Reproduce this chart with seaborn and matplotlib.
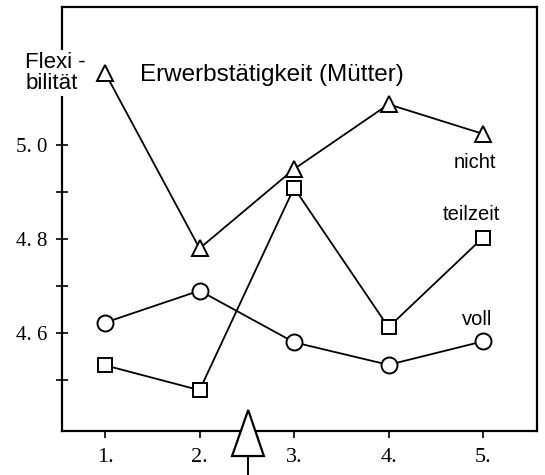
import matplotlib
matplotlib.use("Agg")
import matplotlib.pyplot as plt
from matplotlib.patches import Polygon
import seaborn as sns
import pandas as pd

# Measurement points and mean flexibility scores by mothers' employment
zeitpunkte = [1, 2, 3, 4, 5]
zeitpunkt_labels = ["1.", "2.", "3.", "4.", "5."]
nicht = [5.154, 4.78, 4.949, 5.087, 5.024]
teilzeit = [4.531, 4.478, 4.909, 4.612, 4.803]
voll = [4.622, 4.69, 4.58, 4.532, 4.582]
y_major = [4.6, 4.8, 5.0]
y_major_labels = ["4. 6", "4. 8", "5. 0"]
y_minor = [4.5, 4.7, 4.9]

sns.set_style("white")
plt.rcParams["font.family"] = ["Liberation Sans", "DejaVu Sans"]
plt.rcParams["text.color"] = "black"

fig = plt.figure(figsize=(5.45, 4.75), dpi=100)
ax = fig.add_axes([0.114, 0.0926, 0.871, 0.8924])

series = [
    ("nicht", nicht, "^", 11.0),
    ("teilzeit", teilzeit, "s", 10.5),
    ("voll", voll, "o", 11.5),
]
for name, values, marker, ms in series:
    df = pd.DataFrame({"zeitpunkt": zeitpunkte, "flex": values})
    sns.lineplot(
        data=df, x="zeitpunkt", y="flex", ax=ax,
        color="black", linewidth=1.3,
        marker=marker, markersize=ms,
        markerfacecolor="white", markeredgecolor="black", markeredgewidth=1.4,
        legend=False,
    )

ax.set_xlim(0.545, 5.57)
ax.set_ylim(4.391, 5.294)

serif = ["Liberation Serif", "DejaVu Serif"]
ax.set_xticks(zeitpunkte)
ax.set_xticklabels(zeitpunkt_labels, family=serif, fontsize=16, color="black")
ax.set_yticks(y_major)
ax.set_yticklabels(y_major_labels, family=serif, fontsize=15, color="black")
ax.set_yticks(y_minor, minor=True)
ax.tick_params(axis="x", bottom=True, direction="out", length=5, width=1.2,
               pad=7, color="black")
ax.tick_params(axis="y", which="both", left=True, direction="inout", length=9,
               width=1.2, pad=6, color="black")
ax.set_xlabel("")
ax.set_ylabel("")

for sp in ax.spines.values():
    sp.set_visible(True)
    sp.set_color("black")
    sp.set_linewidth(1.6)

# Series labels
ax.text(4.915, 4.962, "nicht", ha="center", va="center", fontsize=14.5)
ax.text(4.88, 4.853, "teilzeit", ha="center", va="center", fontsize=14.5)
ax.text(4.94, 4.628, "voll", ha="center", va="center", fontsize=14.5)

# Heading inside the plot
ax.text(0.164, 0.840, "Erwerbstätigkeit (Mütter)", transform=ax.transAxes,
        ha="left", va="center", fontsize=17.5)

# Axis label sitting over the y axis line
fig.text(0.046, 0.846, "Flexi -\nbilität", ha="left", va="center", fontsize=16,
         linespacing=1.0,
         bbox=dict(facecolor="white", edgecolor="none", pad=1.5))

# Arrow marker below the time axis
arrow = Polygon([[0.392, 0.0495], [0.358, -0.059], [0.425, -0.059]],
                closed=True, transform=ax.transAxes, clip_on=False,
                facecolor="white", edgecolor="black", linewidth=1.6, zorder=5)
ax.add_patch(arrow)
ax.plot([0.392, 0.392], [-0.059, -0.12], transform=ax.transAxes,
        color="black", linewidth=1.4, clip_on=False, zorder=5)

fig.savefig("out.png", dpi=100)
